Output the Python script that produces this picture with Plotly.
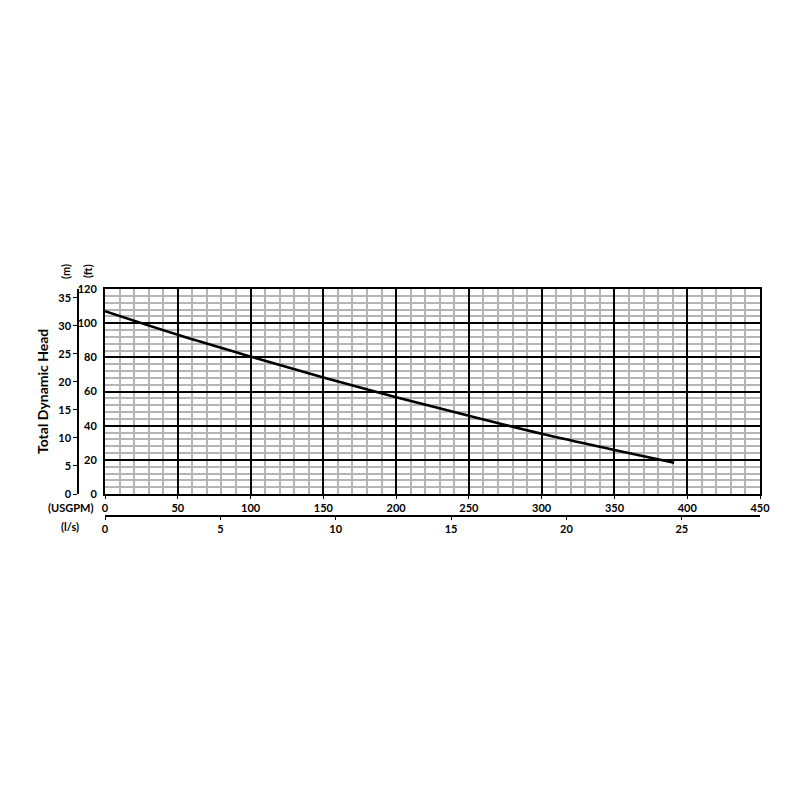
import plotly.graph_objects as go

# pump curve
flow_usgpm = [0, 50, 100, 150, 200, 250, 300, 350, 391]
head_ft = [107.0, 93.2, 80.5, 68.2, 56.7, 45.8, 35.3, 25.8, 18.3]

GPM_TO_LPS = 0.0630902
FT_TO_M = 0.3048

flow_lps = [q * GPM_TO_LPS for q in flow_usgpm]
head_m = [h * FT_TO_M for h in head_ft]

FONT = dict(family="Lato, Arial", size=11, color="black", weight="bold")

# plotting space in pixels (margins below)
L, R, T, B = 20, 40, 40, 240
W, H = 800, 800
PAGE_OFFSET = 8  # default body margin of the html page


def px(x, y):
    x -= PAGE_OFFSET
    y -= PAGE_OFFSET
    return (x - L) / (W - L - R), (H - B - y) / (H - T - B)


fig = go.Figure()
fig.add_trace(
    go.Scatter(
        x=flow_usgpm,
        y=head_ft,
        mode="lines",
        line=dict(color="black", width=2.6, shape="spline"),
        hoverinfo="x+y",
        showlegend=False,
    )
)
# same curve in metric units, only to carry the secondary axes
fig.add_trace(
    go.Scatter(
        x=flow_lps,
        y=head_m,
        xaxis="x2",
        yaxis="y2",
        mode="lines",
        line=dict(color="rgba(0,0,0,0)", width=0),
        hoverinfo="skip",
        showlegend=False,
    )
)

x0, _ = px(105, 0)
x1, _ = px(760, 0)
_, y_bot = px(0, 494)
_, y_top = px(0, 289)
_, lps_pos = px(0, 516)
m_pos, _ = px(78, 0)

fig.update_layout(
    width=W,
    height=H,
    margin=dict(l=L, r=R, t=T, b=B, autoexpand=False),
    paper_bgcolor="white",
    plot_bgcolor="white",
    font=FONT,
    xaxis=dict(
        domain=[x0, x1],
        range=[0, 450],
        tick0=0,
        dtick=50,
        showgrid=True,
        gridcolor="black",
        gridwidth=1.5,
        minor=dict(dtick=10, showgrid=True, gridcolor="#b5b5b5", gridwidth=1.5),
        zeroline=False,
        showline=True,
        linecolor="black",
        linewidth=2,
        mirror=True,
        ticks="outside",
        ticklen=3,
        tickcolor="black",
        tickfont=FONT,
        anchor="y",
        automargin=False,
    ),
    yaxis=dict(
        domain=[y_bot, y_top],
        range=[0, 120],
        tick0=0,
        dtick=20,
        showgrid=True,
        gridcolor="black",
        gridwidth=1.5,
        minor=dict(dtick=4, showgrid=True, gridcolor="#b5b5b5", gridwidth=1.5),
        zeroline=False,
        showline=True,
        linecolor="black",
        linewidth=2,
        mirror=True,
        ticks="",
        ticklabelstandoff=4,
        tickfont=FONT,
        anchor="x",
        automargin=False,
    ),
    xaxis2=dict(
        overlaying="x",
        anchor="free",
        position=lps_pos,
        side="bottom",
        range=[0, 450 * GPM_TO_LPS],
        tick0=0,
        dtick=5,
        showgrid=False,
        zeroline=False,
        showline=True,
        linecolor="black",
        linewidth=1.5,
        ticks="outside",
        ticklen=3,
        tickcolor="black",
        tickfont=FONT,
        automargin=False,
    ),
    yaxis2=dict(
        overlaying="y",
        anchor="free",
        position=m_pos,
        side="left",
        range=[0, 120 * FT_TO_M],
        tick0=0,
        dtick=5,
        showgrid=False,
        zeroline=False,
        showline=True,
        linecolor="black",
        linewidth=1.5,
        ticks="outside",
        ticklen=4,
        tickcolor="black",
        tickfont=FONT,
        automargin=False,
    ),
)

labels = [
    ("Total Dynamic Head", 42, 392, -90, 14),
    ("(m)", 65, 272, -90, 11),
    ("(ft)", 87, 271, -90, 11),
    ("(USGPM)", 70, 507, 0, 11),
    ("(l/s)", 70, 526, 0, 11),
]
for text, lx, ly, angle, size in labels:
    ax, ay = px(lx, ly)
    fig.add_annotation(
        x=ax,
        y=ay,
        xref="paper",
        yref="paper",
        text=text,
        showarrow=False,
        textangle=angle,
        font=dict(family="Lato, Arial", size=size, color="black", weight="bold"),
        xanchor="center",
        yanchor="middle",
    )

fig.write_html("out.html")
